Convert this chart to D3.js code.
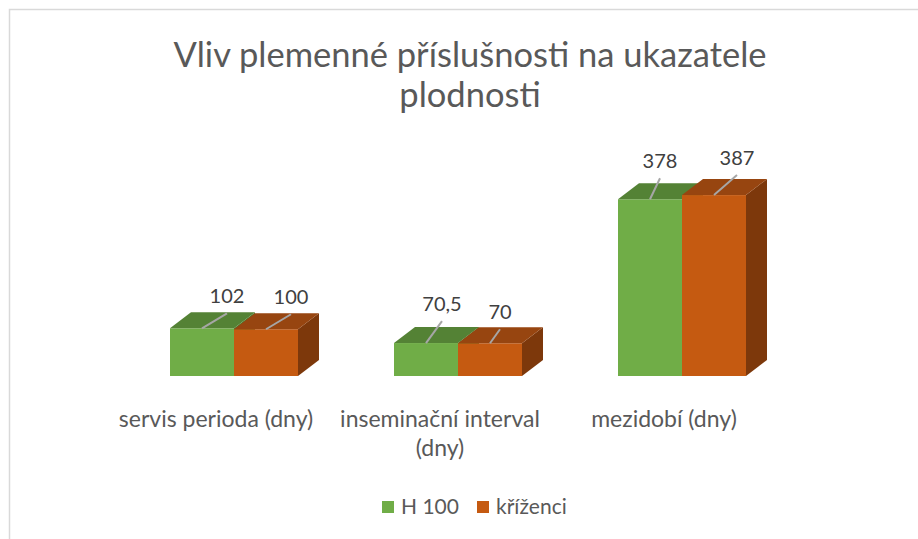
<!DOCTYPE html>
<html>
<head>
<meta charset="utf-8">
<script src="https://cdn.jsdelivr.net/npm/d3@7"></script>
<style>
  body { margin: 0; background: #fff; }
  text { font-family: Lato, 'Open Sans', sans-serif; }
</style>
</head>
<body>
<div id="chart"></div>
<script>
// data
var categories = [['servis perioda (dny)'], ['inseminační interval', '(dny)'], ['mezidobí (dny)']]
var seriesNames = ['H 100', 'kříženci']
var h100 = [102, 70.5, 378]
var krizenci = [100, 70, 387]
var valueLabels = [['102', '70,5', '378'], ['100', '70', '387']]

// label leader offsets (moved by hand in the original)
var labelOffsets = [
  [[25, -15], [16, -22], [10, -21]],
  [[25, -15], [10, -14], [23, -20]]
]

var colors = {
  front: ['#70ad47', '#c55a11'],
  top: ['#548235', '#974510'],
  side: ['#4c7a2f', '#7d380b']
}

const width = 918
const height = 539
const depthX = 21
const depthY = 16

var svg = d3.select('#chart')
  .append('svg')
  .attr('width', width)
  .attr('height', height)

// chart frame
svg.append('rect')
  .attr('x', 9.5).attr('y', 9.5)
  .attr('width', width + 20).attr('height', height + 20)
  .attr('fill', '#fff')
  .attr('stroke', '#d9d9d9')
  .attr('stroke-width', 1.5)

// title
var title = svg.append('text')
  .attr('text-anchor', 'middle')
  .attr('font-size', 34.5)
  .attr('fill', '#595959')
title.append('tspan').attr('x', 470).attr('y', 67).text('Vliv plemenné příslušnosti na ukazatele')
title.append('tspan').attr('x', 470).attr('y', 107).text('plodnosti')

var catKeys = categories.map(c => c.join(' '))
var xScale = d3.scaleBand().domain(catKeys).range([122, 794])
var groupWidth = 128
var sScale = d3.scaleBand().domain(seriesNames).range([0, groupWidth])
var yScale = d3.scaleLinear().domain([0, 400]).range([376, 189])

var series = [h100, krizenci]

catKeys.forEach(function (cat, i) {
  var gx = xScale(cat) + (xScale.bandwidth() - groupWidth) / 2
  var g = svg.append('g')
  series.forEach(function (vals, s) {
    var x0 = gx + sScale(seriesNames[s])
    var x1 = x0 + sScale.bandwidth()
    var yt = yScale(vals[i])
    var yb = yScale(0)
    // side face
    g.append('path')
      .attr('d', d3.line()([[x1, yt], [x1 + depthX, yt - depthY], [x1 + depthX, yb - depthY], [x1, yb]]))
      .attr('fill', colors.side[s])
    // front face
    g.append('rect')
      .attr('x', x0).attr('y', yt)
      .attr('width', x1 - x0).attr('height', yb - yt)
      .attr('fill', colors.front[s])
    // top face
    g.append('path')
      .attr('d', d3.line()([[x0, yt], [x0 + depthX, yt - depthY], [x1 + depthX, yt - depthY], [x1, yt]]))
      .attr('fill', colors.top[s])
  })
  // value labels with leader lines
  series.forEach(function (vals, s) {
    var cx = gx + sScale(seriesNames[s]) + sScale.bandwidth() / 2
    var yt = yScale(vals[i])
    var off = labelOffsets[s][i]
    g.append('line')
      .attr('x1', cx).attr('y1', yt)
      .attr('x2', cx + off[0]).attr('y2', yt + off[1])
      .attr('stroke', '#a6a6a6').attr('stroke-width', 2)
    g.append('text')
      .attr('x', cx + off[0]).attr('y', yt + off[1] - 10)
      .attr('text-anchor', 'middle')
      .attr('font-size', 20)
      .attr('fill', '#404040')
      .text(valueLabels[s][i])
  })
  // category label
  var lab = svg.append('text')
    .attr('text-anchor', 'middle')
    .attr('font-size', 23)
    .attr('fill', '#595959')
  categories[i].forEach(function (line, k) {
    lab.append('tspan')
      .attr('x', xScale(cat) + xScale.bandwidth() / 2 - 18)
      .attr('y', 427 + k * 29)
      .text(line)
  })
})

// legend
var legendX = [382, 477]
seriesNames.forEach(function (name, s) {
  svg.append('rect')
    .attr('x', legendX[s]).attr('y', 501)
    .attr('width', 12).attr('height', 12)
    .attr('fill', colors.front[s])
  svg.append('text')
    .attr('x', legendX[s] + 19).attr('y', 514)
    .attr('font-size', 21)
    .attr('fill', '#595959')
    .text(name)
})
</script>
</body>
</html>
